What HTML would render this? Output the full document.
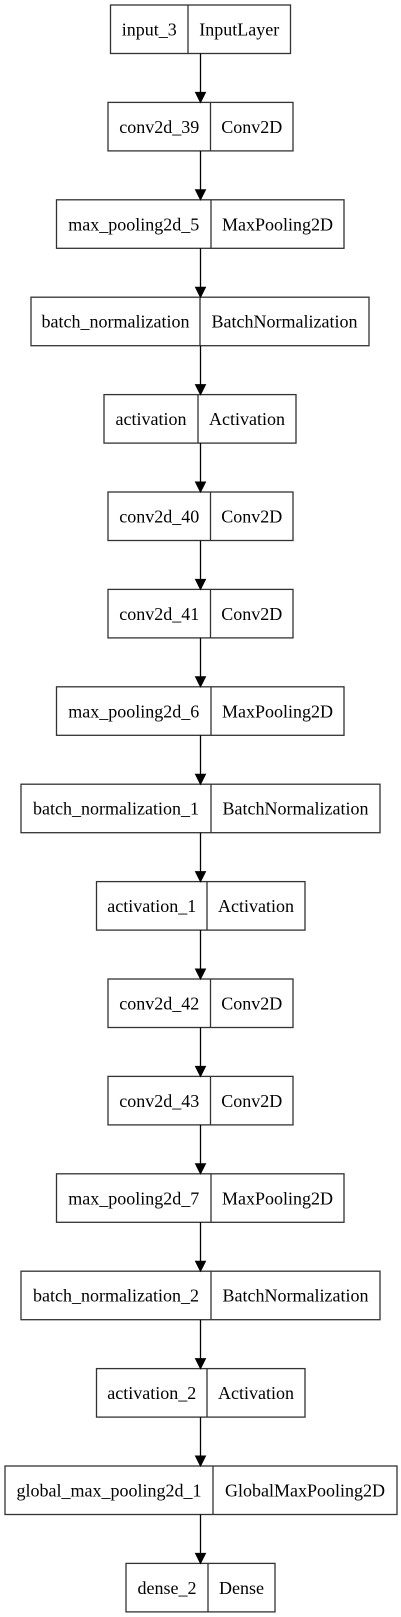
<!DOCTYPE html>
<html><head><meta charset="utf-8"><style>
html,body{margin:0;padding:0;background:#fff;}
svg{display:block;}
text{font-family:"Liberation Serif",serif;font-size:18px;fill:#000;text-anchor:middle;}
rect,line.d{fill:none;stroke:#333;stroke-width:1.3;}
line.a{stroke:#000;stroke-width:1.3;}
</style></head><body>
<svg width="401" height="1617" viewBox="0 0 401 1617" xmlns="http://www.w3.org/2000/svg">
<g id="g"></g>
</svg>
<script>
var nodes=[
["input_3","InputLayer",110.5,290.5,188],
["conv2d_39","Conv2D",108,293,210.5],
["max_pooling2d_5","MaxPooling2D",56.5,344,211],
["batch_normalization","BatchNormalization",31,369,200],
["activation","Activation",104,296,198],
["conv2d_40","Conv2D",108,293,210.5],
["conv2d_41","Conv2D",108,293,210.5],
["max_pooling2d_6","MaxPooling2D",56.5,344,211],
["batch_normalization_1","BatchNormalization",21,380,211],
["activation_1","Activation",96.5,305,207],
["conv2d_42","Conv2D",108,293,210.5],
["conv2d_43","Conv2D",108,293,210.5],
["max_pooling2d_7","MaxPooling2D",56.5,344,211],
["batch_normalization_2","BatchNormalization",21,380,211],
["activation_2","Activation",96.5,305,207],
["global_max_pooling2d_1","GlobalMaxPooling2D",5,397,213],
["dense_2","Dense",126,275,208]
];
var s="",H=48.5;
nodes.forEach(function(n,i){
 var t=5+i*97.4;
 s+='<rect x="'+n[2]+'" y="'+t+'" width="'+(n[3]-n[2])+'" height="'+H+'"/>';
 s+='<line class="d" x1="'+n[4]+'" y1="'+t+'" x2="'+n[4]+'" y2="'+(t+H)+'"/>';
 s+='<text x="'+((n[2]+n[4])/2)+'" y="'+(t+30.5)+'">'+n[0]+'</text>';
 s+='<text x="'+((n[4]+n[3])/2)+'" y="'+(t+30.5)+'">'+n[1]+'</text>';
 if(i>0){
  var pb=5+(i-1)*97.4+H;
  s+='<line class="a" x1="200.5" y1="'+pb+'" x2="200.5" y2="'+(t-10)+'"/>';
  s+='<polygon points="195.5,'+(t-10)+' 205.5,'+(t-10)+' 200.5,'+t+'" fill="#000" stroke="#000" stroke-width="1"/>';
 }
});
document.getElementById("g").innerHTML=s;
</script>
</body></html>
